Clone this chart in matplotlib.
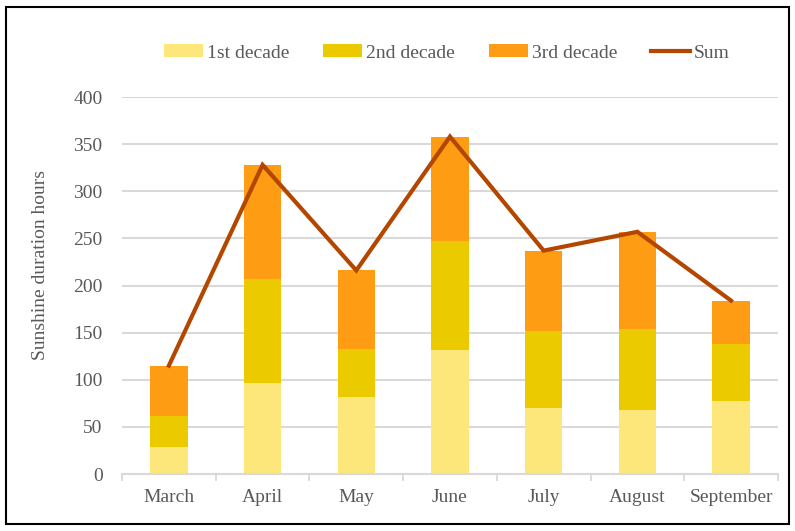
import matplotlib
matplotlib.use("Agg")
import matplotlib.pyplot as plt
from matplotlib.patches import Rectangle
import numpy as np

months = ["March", "April", "May", "June", "July", "August", "September"]
decade1 = [29, 97, 82, 132, 70, 68, 77]
decade2 = [33, 110, 51, 115, 82, 86, 61]
decade3 = [53, 121, 83, 111, 85, 103, 46]
total = [a + b + c for a, b, c in zip(decade1, decade2, decade3)]
yticks = [0, 50, 100, 150, 200, 250, 300, 350, 400]

c1, c2, c3, cl = "#FDE77A", "#EBCB00", "#FE9C14", "#B34700"
txt = "#595959"
grid = "#D9D9D9"

plt.rcParams['font.family'] = ['Liberation Serif', 'DejaVu Serif']

fig = plt.figure(figsize=(7.95, 5.31), dpi=100)
ax = fig.add_axes([0.1535, 0.1073, 0.825, 0.710])

x = np.arange(len(months))
w = 0.4
b1 = ax.bar(x, decade1, w, color=c1, label="1st decade", zorder=2)
b2 = ax.bar(x, decade2, w, bottom=decade1, color=c2, label="2nd decade", zorder=2)
bot3 = [a + b for a, b in zip(decade1, decade2)]
b3 = ax.bar(x, decade3, w, bottom=bot3, color=c3, label="3rd decade", zorder=2)
ln, = ax.plot(x, total, color=cl, lw=3, label="Sum", zorder=3, solid_joinstyle='miter')

ax.set_xlim(-0.5, len(months) - 0.5)
ax.set_ylim(0, 400)
ax.set_yticks(yticks)
ax.set_xticks(x)
ax.set_xticklabels(months)
ax.set_xticks(np.arange(-0.5, len(months), 1), minor=True)
ax.tick_params(axis='x', which='major', length=0, pad=11, labelsize=14, colors=txt)
ax.tick_params(axis='x', which='minor', length=5, color=grid, width=1.3)
ax.tick_params(axis='y', length=0, pad=14, labelsize=14, colors=txt)
ax.yaxis.grid(True, color=grid, lw=1.5, zorder=0)
ax.set_axisbelow(True)
for s in ['top', 'right', 'left']:
    ax.spines[s].set_visible(False)
ax.spines['bottom'].set_color(grid)
ax.spines['bottom'].set_linewidth(1.5)
ax.set_ylabel("Sunshine duration hours", fontsize=14, color=txt)
ax.yaxis.set_label_coords(-0.112, 0.554)

leg = fig.legend(handles=[b1, b2, b3, ln], loc='center', bbox_to_anchor=(0.562, 0.90),
                 ncol=4, frameon=False, fontsize=14, handlelength=2.0, handleheight=0.65,
                 columnspacing=1.75, handletextpad=0.2)
for t in leg.get_texts():
    t.set_color(txt)

fig.patches.append(Rectangle((0.008, 0.013), 0.984, 0.974, transform=fig.transFigure,
                             fill=False, edgecolor='black', lw=1.5))

fig.savefig("out.png", dpi=100)
